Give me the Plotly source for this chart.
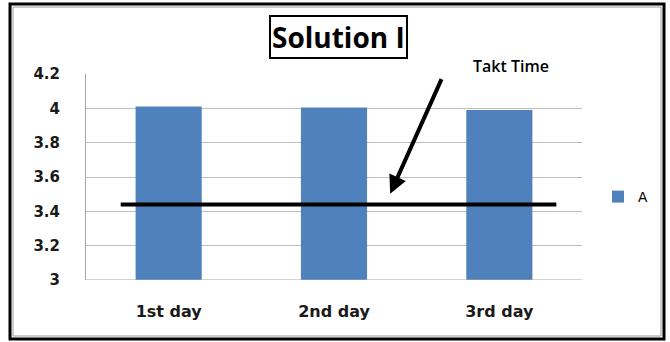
import plotly.graph_objects as go

# Data
days = ["1st day", "2nd day", "3rd day"]
series_a = [4.01, 4.005, 3.99]
takt_time = 3.44
y_ticks = [3, 3.2, 3.4, 3.6, 3.8, 4, 4.2]
y_tick_labels = ["3", "3.2", "3.4", "3.6", "3.8", "4", "4.2"]

W, H = 670, 342
M = dict(l=86, r=88, t=74, b=62)
PW = W - M["l"] - M["r"]
PH = H - M["t"] - M["b"]


def px_x(p):
    return (p - M["l"]) / PW


def px_y(p):
    return (H - M["b"] - p) / PH


fig = go.Figure()
fig.add_trace(go.Bar(
    x=days, y=series_a, name="A",
    marker=dict(color="#4f81bd", line=dict(width=0)),
))

fig.update_layout(
    width=W, height=H,
    margin=M,
    paper_bgcolor="white",
    plot_bgcolor="white",
    bargap=0.6,
    showlegend=True,
    legend=dict(x=px_x(598), y=px_y(197), yanchor="middle", xanchor="left",
                font=dict(family="Liberation Sans", size=14, color="black"),
                itemwidth=30, bgcolor="rgba(0,0,0,0)"),
    xaxis=dict(
        type="category", range=[-0.5, 2.5],
        showgrid=False, showline=False, ticks="",
        tickfont=dict(family="DejaVu Sans", size=16, color="#1a1a1a", weight="bold"),
        ticklabelstandoff=20,
    ),
    yaxis=dict(
        range=[3, 4.2], tickvals=y_ticks, ticktext=y_tick_labels,
        showgrid=True, gridcolor="#bdbdbd", gridwidth=1,
        showline=True, linecolor="#a6a6a6", linewidth=1,
        zeroline=False, ticks="",
        tickfont=dict(family="DejaVu Sans", size=15, color="#1a1a1a", weight="bold"),
        ticklabelstandoff=22,
    ),
)

# bottom axis line
fig.add_shape(type="line", xref="paper", yref="y", x0=0, x1=1, y0=3, y1=3,
              line=dict(color="#a6a6a6", width=1))

# takt time line
fig.add_shape(type="line", xref="x", yref="y", x0=-0.29, x1=2.345,
              y0=takt_time, y1=takt_time, line=dict(color="black", width=4))

# arrow pointing at the takt line
fig.add_annotation(x=1.34, y=3.503, xref="x", yref="y", text="",
                   showarrow=True, arrowhead=2, arrowsize=0.9, arrowwidth=4,
                   arrowcolor="black", ax=52, ay=-116)
fig.add_annotation(x=px_x(511), y=px_y(66), xref="paper", yref="paper",
                   xanchor="center", yanchor="middle",
                   text="Takt Time", showarrow=False,
                   font=dict(family="Open Sans", size=16, color="black", weight=600))

# boxed title
fig.add_annotation(x=px_x(338), y=px_y(37), xref="paper", yref="paper",
                   xanchor="center", yanchor="middle",
                   text="Solution I", showarrow=False,
                   font=dict(family="Open Sans", size=28, color="black", weight="bold"),
                   bordercolor="black", borderwidth=2, borderpad=1, bgcolor="white")

# outer frame
fig.add_shape(type="rect", xref="paper", yref="paper",
              x0=px_x(10), x1=px_x(664), y0=px_y(339), y1=px_y(4),
              line=dict(color="black", width=3), layer="above")
fig.add_shape(type="rect", xref="paper", yref="paper",
              x0=px_x(13), x1=px_x(661), y0=px_y(336), y1=px_y(7),
              line=dict(color="#9a9a9a", width=1), layer="above")

fig.write_html("out.html")
